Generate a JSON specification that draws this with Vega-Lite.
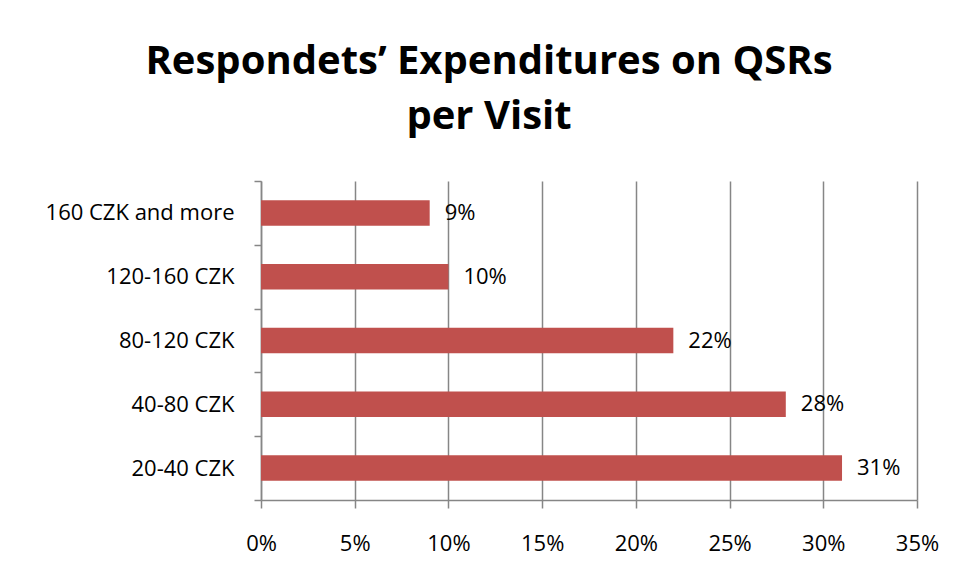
{
  "$schema": "https://vega.github.io/schema/vega-lite/v6.json",
  "autosize": {"type": "none"},
  "width": 656,
  "height": 319,
  "padding": {"left": 261, "top": 181, "right": 38, "bottom": 83},
  "background": "white",
  "title": {
    "text": ["Respondets’ Expenditures on QSRs", "per Visit"],
    "font": "Open Sans",
    "fontSize": 40,
    "fontWeight": "bold",
    "color": "#000000",
    "anchor": "middle",
    "dx": -100,
    "lineHeight": 55,
    "offset": 33
  },
  "data": {
    "values": [
      {"category": "160 CZK and more", "value": 0.09},
      {"category": "120-160 CZK", "value": 0.10},
      {"category": "80-120 CZK", "value": 0.22},
      {"category": "40-80 CZK", "value": 0.28},
      {"category": "20-40 CZK", "value": 0.31}
    ]
  },
  "config": {
    "view": {"stroke": null},
    "font": "Open Sans",
    "axis": {
      "labelFont": "Open Sans",
      "labelFontSize": 22,
      "labelColor": "#000000",
      "labelLimit": 400,
      "labelFlush": false,
      "labelOverlap": false,
      "domainColor": "#868686",
      "domainWidth": 1.5,
      "tickColor": "#868686",
      "tickWidth": 1.5,
      "gridColor": "#868686",
      "gridWidth": 1.5,
      "gridOpacity": 1,
      "title": null
    }
  },
  "encoding": {
    "y": {
      "field": "category",
      "type": "nominal",
      "sort": null,
      "scale": {"paddingInner": 0, "paddingOuter": 0},
      "axis": {"tickBand": "extent", "tickSize": 7, "labelPadding": 20, "grid": false, "title": null}
    },
    "x": {
      "field": "value",
      "type": "quantitative",
      "scale": {"domain": [0, 0.35], "nice": false},
      "axis": {"format": ".0%", "values": [0, 0.05, 0.1, 0.15, 0.2, 0.25, 0.3, 0.35], "tickSize": 8, "labelPadding": 25, "grid": true, "title": null}
    }
  },
  "layer": [
    {"mark": {"type": "bar", "color": "#C0504D", "height": {"band": 0.4}}},
    {
      "mark": {"type": "text", "align": "left", "baseline": "middle", "dx": 15, "font": "Open Sans", "fontSize": 22, "color": "#000000"},
      "encoding": {"text": {"field": "value", "type": "quantitative", "format": ".0%"}}
    }
  ]
}
